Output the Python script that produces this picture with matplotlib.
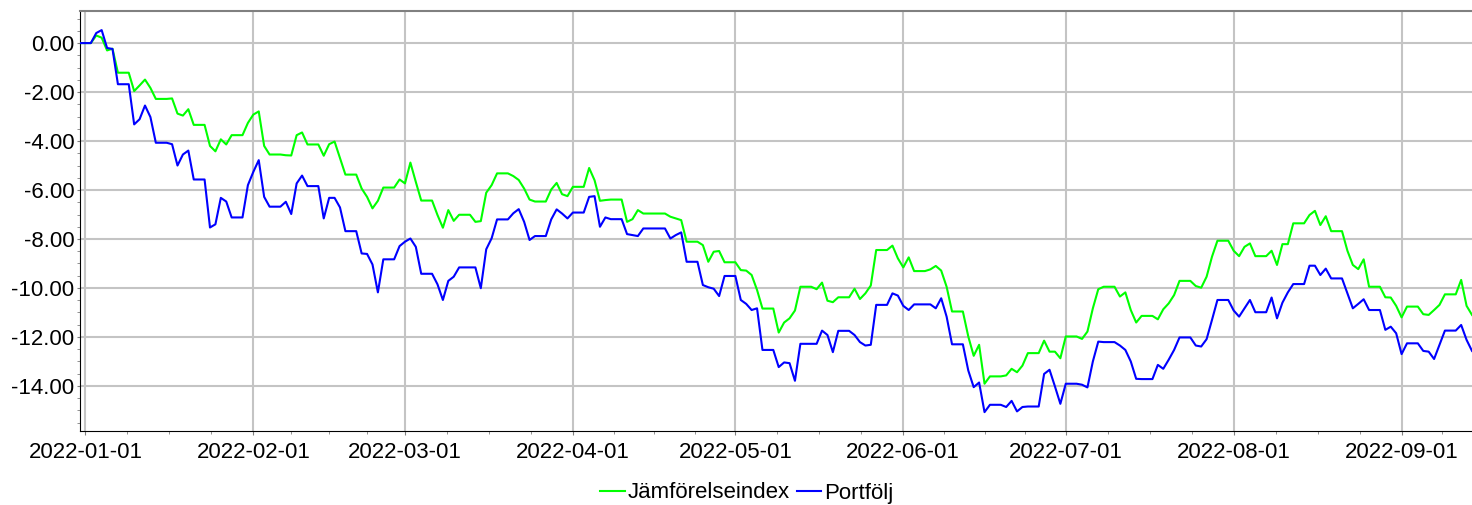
import matplotlib
matplotlib.use('Agg')
import matplotlib.pyplot as plt
import matplotlib.dates as mdates
import matplotlib.ticker as mticker
import pandas as pd

plt.rcParams['font.family'] = ['Liberation Sans', 'DejaVu Sans']

# daily values (%), weekends/holidays repeat last close
start_date = '2021-12-31'
index_vals = [
    0.00, 0.00, 0.00,
    0.31, 0.22, -0.30, -0.23, -1.21, -1.21, -1.21,
    -1.96, -1.73, -1.49, -1.83, -2.28, -2.28, -2.28,
    -2.26, -2.88, -2.96, -2.70, -3.34, -3.34, -3.34,
    -4.20, -4.42, -3.93, -4.14, -3.76, -3.76, -3.76,
    -3.26, -2.92, -2.79, -4.20, -4.55, -4.55, -4.55,
    -4.58, -4.59, -3.76, -3.65, -4.14, -4.14, -4.14,
    -4.60, -4.13, -4.02, -4.69, -5.37, -5.37, -5.37,
    -5.94, -6.28, -6.75, -6.44, -5.90, -5.90, -5.90,
    -5.57, -5.73, -4.88, -5.67, -6.43, -6.43, -6.43,
    -7.02, -7.54, -6.82, -7.26, -7.01, -7.01, -7.01,
    -7.30, -7.27, -6.11, -5.80, -5.32, -5.32, -5.32,
    -5.43, -5.59, -5.94, -6.39, -6.47, -6.47, -6.47,
    -5.98, -5.71, -6.17, -6.25, -5.87, -5.87, -5.87,
    -5.10, -5.60, -6.44, -6.41, -6.39, -6.39, -6.39,
    -7.30, -7.19, -6.82, -6.96, -6.96, -6.96, -6.96,
    -6.96, -7.09, -7.16, -7.23, -8.11, -8.11, -8.11,
    -8.25, -8.93, -8.52, -8.49, -8.95, -8.95, -8.95,
    -9.27, -9.29, -9.47, -10.08, -10.84, -10.84, -10.84,
    -11.82, -11.41, -11.24, -10.92, -9.95, -9.95, -9.95,
    -10.05, -9.78, -10.52, -10.58, -10.38, -10.38, -10.38,
    -10.03, -10.45, -10.22, -9.90, -8.45, -8.45, -8.45,
    -8.27, -8.79, -9.16, -8.75, -9.31, -9.31, -9.31,
    -9.24, -9.10, -9.29, -9.95, -10.96, -10.96, -10.96,
    -11.98, -12.77, -12.32, -13.91, -13.61, -13.61, -13.61,
    -13.57, -13.30, -13.44, -13.17, -12.66, -12.66, -12.66,
    -12.15, -12.60, -12.60, -12.87, -11.98, -11.98, -11.98,
    -12.08, -11.78, -10.83, -10.05, -9.95, -9.95, -9.95,
    -10.35, -10.18, -10.90, -11.41, -11.14, -11.14, -11.14,
    -11.28, -10.87, -10.63, -10.29, -9.71, -9.71, -9.71,
    -9.92, -9.99, -9.54, -8.72, -8.07, -8.07, -8.07,
    -8.48, -8.70, -8.32, -8.18, -8.70, -8.70, -8.70,
    -8.48, -9.06, -8.21, -8.21, -7.36, -7.36, -7.36,
    -7.02, -6.85, -7.43, -7.07, -7.68, -7.68, -7.68,
    -8.48, -9.06, -9.23, -8.83, -9.95, -9.95, -9.95,
    -10.38, -10.39, -10.73, -11.20, -10.76, -10.76, -10.76,
    -11.07, -11.10, -10.90, -10.69, -10.26, -10.26, -10.26,
    -9.67, -10.73, -11.10,
]
portfolio_vals = [
    0.00, 0.00, 0.00,
    0.41, 0.53, -0.20, -0.24, -1.68, -1.68, -1.68,
    -3.32, -3.11, -2.55, -3.02, -4.07, -4.07, -4.07,
    -4.13, -5.00, -4.55, -4.39, -5.57, -5.57, -5.57,
    -7.53, -7.40, -6.32, -6.47, -7.12, -7.12, -7.12,
    -5.80, -5.26, -4.78, -6.28, -6.68, -6.68, -6.68,
    -6.48, -6.98, -5.73, -5.41, -5.84, -5.84, -5.84,
    -7.16, -6.32, -6.32, -6.71, -7.68, -7.68, -7.68,
    -8.59, -8.61, -9.04, -10.18, -8.83, -8.83, -8.83,
    -8.29, -8.11, -7.98, -8.32, -9.42, -9.42, -9.42,
    -9.85, -10.49, -9.71, -9.54, -9.16, -9.16, -9.16,
    -9.16, -10.01, -8.42, -7.97, -7.20, -7.20, -7.20,
    -6.95, -6.78, -7.30, -8.04, -7.88, -7.88, -7.88,
    -7.20, -6.79, -6.96, -7.16, -6.92, -6.92, -6.92,
    -6.28, -6.25, -7.50, -7.12, -7.19, -7.19, -7.19,
    -7.80, -7.84, -7.88, -7.57, -7.57, -7.57, -7.57,
    -7.57, -7.98, -7.84, -7.73, -8.93, -8.93, -8.93,
    -9.88, -9.97, -10.03, -10.33, -9.51, -9.51, -9.51,
    -10.49, -10.65, -10.90, -10.83, -12.53, -12.53, -12.53,
    -13.23, -13.04, -13.07, -13.79, -12.28, -12.28, -12.28,
    -12.28, -11.74, -11.92, -12.62, -11.75, -11.75, -11.75,
    -11.92, -12.21, -12.35, -12.32, -10.69, -10.69, -10.69,
    -10.22, -10.31, -10.73, -10.90, -10.67, -10.67, -10.67,
    -10.67, -10.83, -10.42, -11.17, -12.30, -12.30, -12.30,
    -13.37, -14.05, -13.86, -15.07, -14.77, -14.77, -14.77,
    -14.86, -14.61, -15.04, -14.86, -14.84, -14.84, -14.84,
    -13.51, -13.34, -14.02, -14.73, -13.91, -13.91, -13.91,
    -13.95, -14.06, -13.00, -12.19, -12.21, -12.21, -12.21,
    -12.35, -12.53, -13.00, -13.71, -13.72, -13.72, -13.72,
    -13.14, -13.30, -12.93, -12.53, -12.02, -12.02, -12.02,
    -12.35, -12.39, -12.09, -11.30, -10.49, -10.49, -10.49,
    -10.92, -11.17, -10.83, -10.49, -10.99, -10.99, -10.99,
    -10.39, -11.24, -10.60, -10.18, -9.84, -9.84, -9.84,
    -9.09, -9.09, -9.47, -9.21, -9.61, -9.61, -9.61,
    -10.22, -10.83, -10.65, -10.46, -10.90, -10.90, -10.90,
    -11.71, -11.58, -11.85, -12.70, -12.26, -12.26, -12.26,
    -12.57, -12.60, -12.90, -12.32, -11.74, -11.74, -11.74,
    -11.51, -12.12, -12.57,
]
series_names = ['Jämförelseindex', 'Portfölj']
series_colors = ['#00ff00', '#0000ff']
y_ticks = [-14, -12, -10, -8, -6, -4, -2, 0]

dates = pd.date_range(start_date, periods=len(index_vals), freq='D')

fig = plt.figure(figsize=(14.72, 5.05), dpi=100)
ax = fig.add_axes([80/1472, 74/505, 1392/1472, 420/505])

lines = []
for vals, name, col in zip([index_vals, portfolio_vals], series_names, series_colors):
    ln, = ax.plot(dates, vals, color=col, lw=1.5, label=name, zorder=3)
    lines.append(ln)

# month ticks, minor ticks at quarter months
months = pd.date_range('2022-01-01', '2022-09-01', freq='MS')
minor = []
for m in pd.date_range('2021-12-01', '2022-09-01', freq='MS'):
    ndays = m.days_in_month
    for k in range(1, 4):
        minor.append(m + pd.Timedelta(days=ndays * k / 4))
ax.set_xticks(months)
ax.set_xticks(minor, minor=True)
ax.xaxis.set_major_formatter(mdates.DateFormatter('%Y-%m-%d'))

ax.set_yticks(y_ticks)
ax.yaxis.set_minor_locator(mticker.MultipleLocator(0.5))
ax.yaxis.set_major_formatter(mticker.FormatStrFormatter('%.2f'))

ax.set_xlim(dates[0], dates[-1])
ax.set_ylim(-15.84, 1.31)

ax.tick_params(axis='both', which='both', direction='out', color='#808080',
               labelsize=16, labelcolor='black')
ax.tick_params(axis='x', which='major', length=3, pad=5)
ax.tick_params(axis='x', which='minor', length=2)
ax.tick_params(axis='y', which='major', length=2, pad=2)
ax.tick_params(axis='y', which='minor', length=2)

ax.grid(True, which='major', color='#c4c4c4', lw=1.5, zorder=1)
ax.set_axisbelow(True)

ax.spines['right'].set_visible(False)
ax.spines['top'].set_color('#808080')
ax.spines['top'].set_linewidth(1.5)
ax.spines['left'].set_color('black')
ax.spines['bottom'].set_color('black')

fig.legend(handles=lines, labels=series_names, loc='center',
           bbox_to_anchor=(747/1472, 1 - 493/505), ncol=2, frameon=False,
           fontsize=16, handlelength=1.1, handletextpad=0.15,
           columnspacing=0.3, borderpad=0)

plt.savefig('out.png', dpi=100)
